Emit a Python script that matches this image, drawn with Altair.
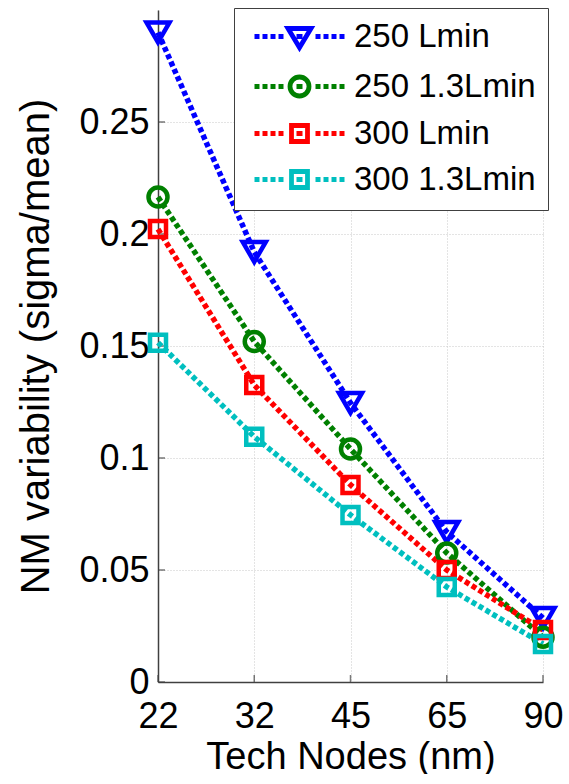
import altair as alt
import pandas as pd

# ---- data ----
nodes = ["22", "32", "45", "65", "90"]
series = ["250 Lmin", "250 1.3Lmin", "300 Lmin", "300 1.3Lmin"]
v_250_lmin = [0.290, 0.192, 0.1246, 0.067, 0.0286]
v_250_13lmin = [0.2165, 0.152, 0.104, 0.0576, 0.0200]
v_300_lmin = [0.2022, 0.1326, 0.088, 0.050, 0.0232]
v_300_13lmin = [0.1515, 0.1095, 0.0746, 0.0424, 0.0170]
y_ticks = [0, 0.05, 0.1, 0.15, 0.2, 0.25]

colors = ["#0000FF", "#008000", "#FF0000", "#00BFBF"]

values = [v_250_lmin, v_250_13lmin, v_300_lmin, v_300_13lmin]
rows = []
for si, (s, vals) in enumerate(zip(series, values)):
    for n, v in zip(nodes, vals):
        rows.append({"series": s, "node": n, "value": v, "order": si})
df = pd.DataFrame(rows)
xt = pd.DataFrame({"node": nodes, "value": [0.0] * len(nodes)})
yt = pd.DataFrame({"node": [nodes[0]] * len(y_ticks), "value": y_ticks})

FONT = "Liberation Sans"

# legend symbols: dotted line with marker, in pixel units (symbolSize=4 -> scale 1)
dashes = ("M-45,0L-40,0M-37,0L-32,0M-29,0L-24,0M-21,0L-16,0"
          "M16,0L21,0M24,0L29,0M32,0L37,0M40,0L45,0M-3,0L3,0")
tri = "M-11.5,-8L11.5,-8L0,11Z"
circ = "M-9.5,0A9.5,9.5 0 1,0 9.5,0A9.5,9.5 0 1,0 -9.5,0Z"
sq = "M-8,-8L8,-8L8,8L-8,8Z"
leg_paths = [dashes + tri, dashes + circ, dashes + sq, dashes + sq]

x_scale = alt.Scale(type="point", domain=nodes, padding=0)
x_enc = alt.X("node:N", sort=nodes, scale=x_scale,
              axis=alt.Axis(title="Tech Nodes (nm)", labelAngle=0,
                            labelPadding=17, titlePadding=4, titleFontSize=38))
y_enc = alt.Y("value:Q", scale=alt.Scale(domain=[0, 0.3], nice=False, zero=True),
              axis=alt.Axis(title="NM variability (sigma/mean)", values=y_ticks,
                            format="~g", labelPadding=9, titlePadding=22))

color_scale = alt.Scale(domain=series, range=colors)
color_nolegend = alt.Color("series:N", scale=color_scale, legend=None)

lines = alt.Chart(df).mark_line(strokeWidth=5.5, strokeDash=[5, 3], strokeCap="butt").encode(
    x=x_enc, y=y_enc, color=color_nolegend, order=alt.Order("order:Q"),
)


def markers(names, shape, size):
    return alt.Chart(df).transform_filter(
        alt.FieldOneOfPredicate(field="series", oneOf=names)
    ).mark_point(filled=False, strokeWidth=4.5, opacity=1, shape=shape, size=size).encode(
        x=x_enc, y=y_enc, color=color_nolegend, order=alt.Order("order:Q"),
    )


tri_pts = markers([series[0]], "triangle-down", 529)
circ_pts = markers([series[1]], "circle", 361)
sq_pts = markers([series[2], series[3]], "square", 256)

leg_kw = dict(
    title=None, orient="none", legendX=76, legendY=-2,
    padding=12, symbolSize=4, symbolOffset=37, labelOffset=38,
    labelFont=FONT, labelFontSize=33, labelColor="black", labelLimit=400,
    rowPadding=9, strokeColor="#404040", fillColor="white",
    symbolStrokeWidth=4.8, symbolOpacity=1,
)

# legend-provider layer (first, so its legend settings win): its points are transparent
legend_layer = alt.Chart(df).mark_point(
    filled=False, strokeWidth=4.8, opacity=0, size=4
).encode(
    x=x_enc, y=y_enc,
    color=alt.Color("series:N", scale=color_scale, legend=alt.Legend(**leg_kw)),
    shape=alt.Shape("series:N", scale=alt.Scale(domain=series, range=leg_paths),
                    legend=alt.Legend(**leg_kw)),
)

xticks = alt.Chart(xt).mark_tick(orient="vertical", size=7, thickness=1.5,
                                  color="#404040", yOffset=-3.5).encode(x=x_enc, y=y_enc)
yticks = alt.Chart(yt).mark_tick(orient="horizontal", size=7, thickness=1.5,
                                  color="#404040", xOffset=3.5).encode(x=x_enc, y=y_enc)

chart = alt.layer(legend_layer, xticks, yticks, lines, tri_pts, circ_pts, sq_pts).properties(
    width=385, height=672,
    autosize="none",
    background="white",
    padding={"left": 158, "top": 10, "right": 26, "bottom": 92},
).configure_view(stroke=None).configure_axis(
    labelFont=FONT, labelFontSize=36, labelColor="black",
    titleFont=FONT, titleFontSize=40, titleFontWeight="normal", titleColor="black",
    domainColor="#404040", domainWidth=1.5,
    ticks=False, tickSize=0,
    grid=True, gridColor="#c8c8c8", gridDash=[1, 2], gridWidth=1,
)

chart.save("out.html", embed_options={"renderer": "svg", "actions": False})
